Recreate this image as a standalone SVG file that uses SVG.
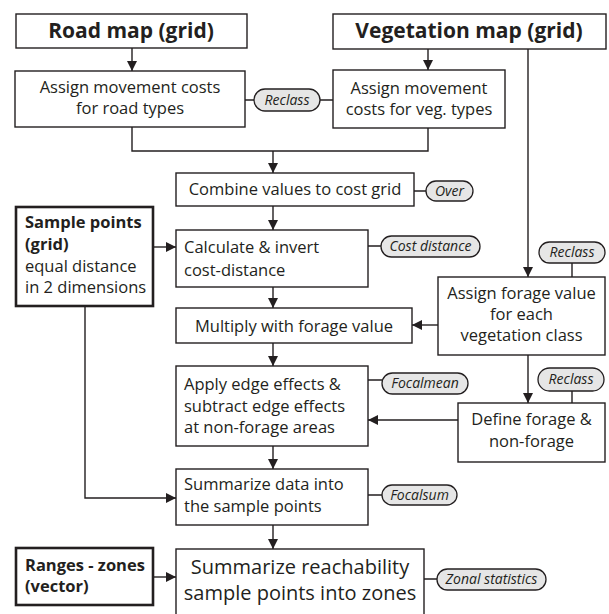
<svg xmlns="http://www.w3.org/2000/svg" width="609" height="614" viewBox="0 0 609 614">
<defs>
<marker id="ah" viewBox="0 0 10 10" refX="10" refY="5" markerWidth="10" markerHeight="10" markerUnits="userSpaceOnUse" orient="auto">
<path d="M0,0 L10,5 L0,10 z" fill="#231f20"/>
</marker>
</defs>
<style>
.box{fill:#fff;stroke:#231f20;stroke-width:1.4}
.tbox{fill:#fff;stroke:#231f20;stroke-width:2.6}
.pill{fill:#e6e6e6;stroke:#231f20;stroke-width:1.3}
.t{font-family:"Open Sans","Noto Sans","Liberation Sans",sans-serif;font-size:16.5px;fill:#231f20}
.c{text-anchor:middle}
.b{font-family:"Open Sans","Noto Sans","Liberation Sans",sans-serif;font-weight:bold;fill:#231f20}
.p{font-family:"Open Sans","Noto Sans","Liberation Sans",sans-serif;font-style:italic;font-size:14px;fill:#231f20;text-anchor:middle}
.big{font-size:20px}
.ln{fill:none;stroke:#231f20;stroke-width:1.4}
.ar{fill:none;stroke:#231f20;stroke-width:1.4;marker-end:url(#ah)}
</style>
<g id="connectors">
<path class="ar" d="M132,48 V71"/>
<path class="ar" d="M428,49 V70"/>
<path class="ln" d="M245,100 H254 M320,100 H333"/>
<path class="ln" d="M132,127 V151 H428 V128"/>
<path class="ar" d="M273,151 V173"/>
<path class="ar" d="M273,206 V230"/>
<path class="ar" d="M153,247 H176"/>
<path class="ar" d="M273,287 V308"/>
<path class="ar" d="M273,343 V366"/>
<path class="ar" d="M273,446 V469"/>
<path class="ar" d="M273,525 V549"/>
<path class="ar" d="M528,49 V277"/>
<path class="ar" d="M438,325 H412"/>
<path class="ar" d="M528,355 V403"/>
<path class="ar" d="M458,420 H368"/>
<path class="ar" d="M85,306 V498 H176"/>
<path class="ar" d="M153,577 H176"/>
<path class="ln" d="M414,191 H426 M368,246 H381 M572,263 V277 M368,380 H382 M572,391 V403 M368,495 H382 M424,579 H437"/>
</g>
<g id="road_map">
<rect class="box" x="16" y="14" width="231" height="34"/>
<text class="b c" x="131" y="38" font-size="21">Road map (grid)</text>
</g>
<g id="veg_map">
<rect class="box" x="333" y="14" width="273" height="35"/>
<text class="b c" x="469" y="38" font-size="21">Vegetation map (grid)</text>
</g>
<g id="road_cost">
<rect class="box" x="15" y="71" width="230" height="56"/>
<text class="t c" x="130" y="93">Assign movement costs</text>
<text class="t c" x="130" y="114">for road types</text>
</g>
<g id="veg_cost">
<rect class="box" x="333" y="70" width="172" height="58"/>
<text class="t c" x="419" y="94">Assign movement</text>
<text class="t c" x="419" y="115">costs for veg. types</text>
</g>
<g id="reclass1">
<rect class="pill" x="254" y="89" width="66" height="22" rx="11"/>
<text class="p" x="287" y="105">Reclass</text>
</g>
<g id="combine">
<rect class="box" x="176" y="173" width="238" height="33"/>
<text class="t c" x="295" y="195">Combine values to cost grid</text>
</g>
<g id="over">
<rect class="pill" x="426" y="181" width="47" height="20" rx="10"/>
<text class="p" x="449.5" y="196">Over</text>
</g>
<g id="sample_points">
<rect class="tbox" x="16" y="207" width="137" height="99"/>
<text class="b" x="25" y="228" font-size="16.5">Sample points</text>
<text class="b" x="25" y="250" font-size="16.5">(grid)</text>
<text class="t" x="25" y="272">equal distance</text>
<text class="t" x="25" y="293">in 2 dimensions</text>
</g>
<g id="calc">
<rect class="box" x="176" y="230" width="192" height="57"/>
<text class="t" x="184" y="253">Calculate &amp; invert</text>
<text class="t" x="184" y="276">cost-distance</text>
</g>
<g id="cost_distance">
<rect class="pill" x="381" y="236" width="99" height="21" rx="10.5"/>
<text class="p" x="430.5" y="251">Cost distance</text>
</g>
<g id="reclass2">
<rect class="pill" x="539" y="242" width="66" height="21" rx="10.5"/>
<text class="p" x="572" y="257">Reclass</text>
</g>
<g id="forage">
<rect class="box" x="438" y="277" width="167" height="78"/>
<text class="t c" x="521.5" y="299">Assign forage value</text>
<text class="t c" x="521.5" y="320">for each</text>
<text class="t c" x="521.5" y="341">vegetation class</text>
</g>
<g id="multiply">
<rect class="box" x="176" y="308" width="236" height="35"/>
<text class="t c" x="294" y="332">Multiply with forage value</text>
</g>
<g id="apply">
<rect class="box" x="176" y="366" width="192" height="80"/>
<text class="t" x="184" y="390">Apply edge effects &amp;</text>
<text class="t" x="184" y="412">subtract edge effects</text>
<text class="t" x="184" y="433">at non-forage areas</text>
</g>
<g id="focalmean">
<rect class="pill" x="382" y="373" width="86" height="21" rx="10.5"/>
<text class="p" x="425" y="388">Focalmean</text>
</g>
<g id="reclass3">
<rect class="pill" x="538" y="368" width="66" height="23" rx="11.5"/>
<text class="p" x="571" y="384">Reclass</text>
</g>
<g id="define">
<rect class="box" x="458" y="403" width="147" height="59"/>
<text class="t c" x="531.5" y="425">Define forage &amp;</text>
<text class="t c" x="531.5" y="447">non-forage</text>
</g>
<g id="summarize_data">
<rect class="box" x="176" y="469" width="192" height="56"/>
<text class="t" x="184" y="490">Summarize data into</text>
<text class="t" x="184" y="512">the sample points</text>
</g>
<g id="focalsum">
<rect class="pill" x="382" y="485" width="75" height="20" rx="10"/>
<text class="p" x="419.5" y="500">Focalsum</text>
</g>
<g id="ranges">
<rect class="tbox" x="16" y="548" width="137" height="57"/>
<text class="b" x="25" y="571" font-size="16.5">Ranges - zones</text>
<text class="b" x="25" y="592" font-size="16.5">(vector)</text>
</g>
<g id="final">
<rect class="box" x="176" y="549" width="248" height="75"/>
<text class="t c big" x="300" y="574">Summarize reachability</text>
<text class="t c big" x="300" y="600">sample points into zones</text>
</g>
<g id="zonal">
<rect class="pill" x="437" y="569" width="109" height="21" rx="10.5"/>
<text class="p" x="491.5" y="584">Zonal statistics</text>
</g>
</svg>
